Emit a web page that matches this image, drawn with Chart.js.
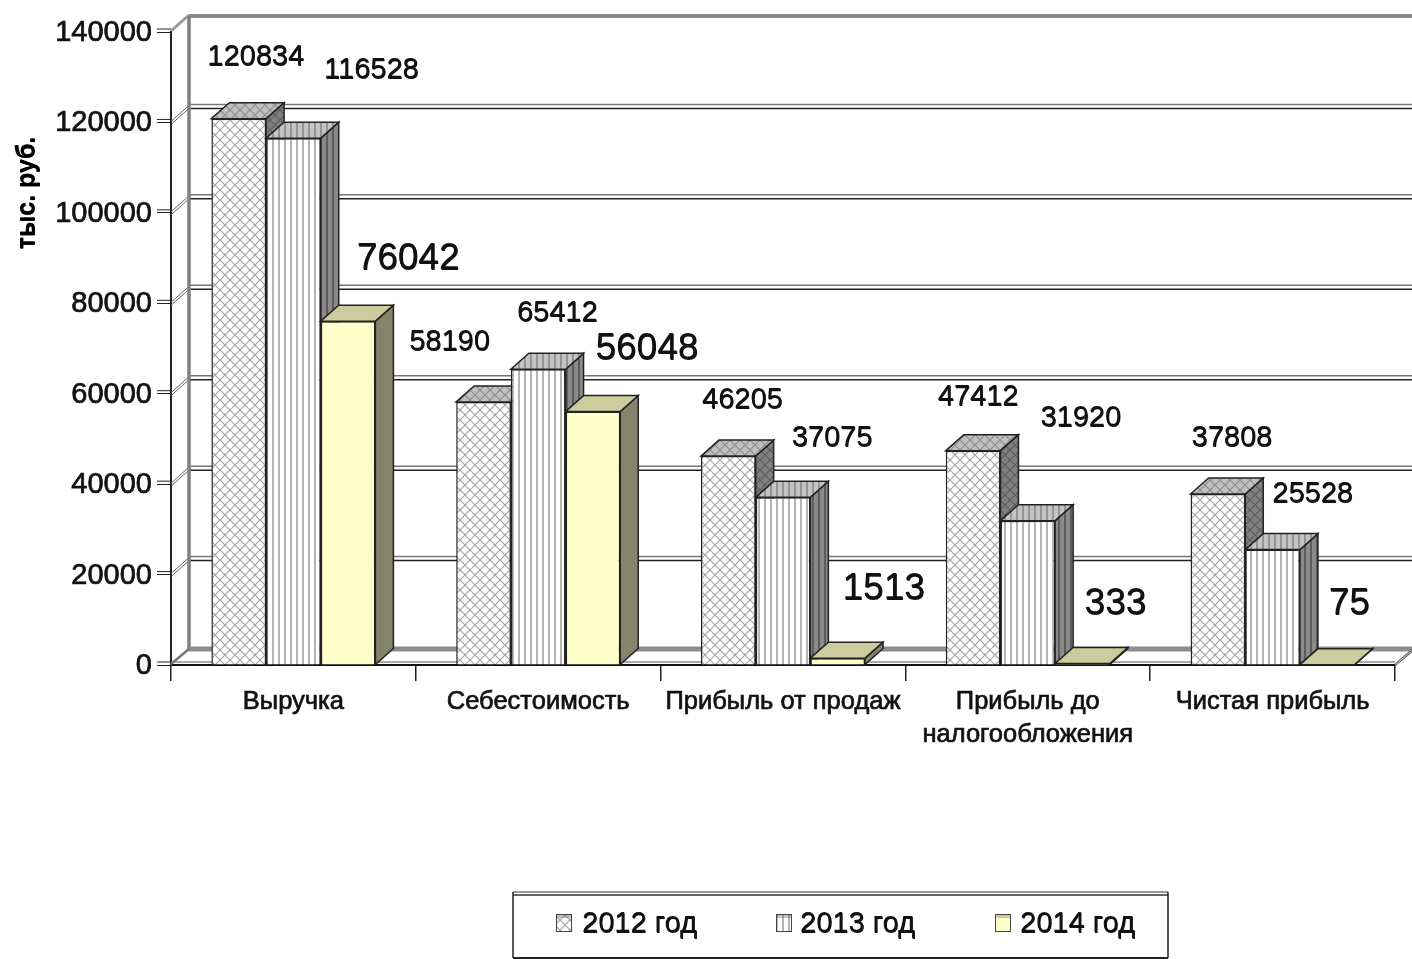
<!DOCTYPE html>
<html lang="ru">
<head>
<meta charset="utf-8">
<title>Показатели 2012-2014</title>
<script src="https://cdn.jsdelivr.net/npm/chart.js@4/dist/chart.umd.min.js"></script>
<style>
  html, body { margin: 0; padding: 0; background: #fff; }
  canvas { display: block; }
</style>
</head>
<body>
<canvas id="chart" width="1412" height="959"></canvas>
<script>
// данные
const categories = ['Выручка', 'Себестоимость', 'Прибыль от продаж', ['Прибыль до', 'налогообложения'], 'Чистая прибыль'];
const seriesNames = ['2012 год', '2013 год', '2014 год'];
const values2012 = [120834, 58190, 46205, 47412, 37808];
const values2013 = [116528, 65412, 37075, 31920, 25528];
const values2014 = [76042, 56048, 1513, 333, 75];
const yMax = 140000;
const yStep = 20000;
const yTitle = 'тыс. руб.';

// смещение подписей от верхнего центра столбика
const labelShift = [
    [[17, -62], [-34, -60], [14, -56], [5, -54], [14, -56]],
    [[78, -68], [19, -56], [49, -59], [53, -103], [40, -56]],
    [[60, -62], [54, -63], [46, -69], [33, -60], [22, -61]]
];
const labelFonts = ['29px', '29px', '37px'];

const DEPTH_X = 18;
const DEPTH_Y = 16;
const FONT = '"Liberation Sans", Arial, sans-serif';

// штриховки
function makePattern(kind, bg, line) {
    const tile = document.createElement('canvas');
    const size = kind === 'cross' ? 10 : 6;
    tile.width = size;
    tile.height = size;
    const c = tile.getContext('2d');
    c.fillStyle = bg;
    c.fillRect(0, 0, size, size);
    c.strokeStyle = line;
    c.lineWidth = kind === 'cross' ? 1.2 : 2;
    c.beginPath();
    if (kind === 'cross') {
        c.moveTo(0, 0); c.lineTo(size, size);
        c.moveTo(size, 0); c.lineTo(0, size);
    } else {
        c.moveTo(size / 2, 0); c.lineTo(size / 2, size);
    }
    c.stroke();
    return c.createPattern(tile, 'repeat');
}

const faces = [
    { front: makePattern('cross', '#ffffff', '#a4a4a4'), top: makePattern('cross', '#c0c0c0', '#8c8c8c'), side: makePattern('cross', '#808080', '#5c5c5c') },
    { front: makePattern('lines', '#ffffff', '#b4b4b4'), top: makePattern('lines', '#c4c4c4', '#949494'), side: makePattern('lines', '#8a8a8a', '#5c5c5c') },
    { front: '#ffffcc', top: '#cccc9e', side: '#84846a' }
];

function poly(ctx, pts, fill, stroke, width) {
    ctx.beginPath();
    pts.forEach((p, i) => i ? ctx.lineTo(p[0], p[1]) : ctx.moveTo(p[0], p[1]));
    ctx.closePath();
    if (fill) { ctx.fillStyle = fill; ctx.fill(); }
    if (stroke) { ctx.strokeStyle = stroke; ctx.lineWidth = width; ctx.stroke(); }
}

function segment(ctx, x1, y1, x2, y2, color, width) {
    ctx.beginPath();
    ctx.moveTo(x1, y1);
    ctx.lineTo(x2, y2);
    ctx.strokeStyle = color;
    ctx.lineWidth = width;
    ctx.stroke();
}

// задняя стенка, пол и сетка
function drawWalls(chart) {
    const ctx = chart.ctx;
    const y = chart.scales.y;
    const area = chart.chartArea;
    const backLeft = area.left + DEPTH_X;
    const backRight = area.right + DEPTH_X;
    y.ticks.forEach(t => {
        const py = y.getPixelForValue(t.value);
        // второй штрих деления
        segment(ctx, area.left - 14, py - 3, area.left, py - 3, '#222', 1);
        if (t.value === 0) return;
        if (t.value !== yMax) {
            segment(ctx, backLeft, py - DEPTH_Y - 2, backRight, py - DEPTH_Y - 2, '#777', 1.5);
            segment(ctx, backLeft, py - DEPTH_Y + 2, backRight, py - DEPTH_Y + 2, '#222', 1.5);
        }
        segment(ctx, area.left, py - 1, backLeft, py - DEPTH_Y - 1, t.value === yMax ? '#999' : '#666', t.value === yMax ? 3 : 1);
        if (t.value !== yMax) segment(ctx, area.left, py + 2, backLeft, py - DEPTH_Y + 2, '#666', 1);
    });
    // верхняя и левая границы стенки
    segment(ctx, backLeft, area.top - DEPTH_Y, backRight, area.top - DEPTH_Y, '#8c8c8c', 4);
    segment(ctx, backLeft, area.top - DEPTH_Y, backLeft, area.bottom - DEPTH_Y, '#808080', 3.5);
    // пол
    segment(ctx, backLeft, area.bottom - DEPTH_Y, backRight, area.bottom - DEPTH_Y, '#8c8c8c', 5);
    segment(ctx, area.left, area.bottom - 3, area.right, area.bottom - 3, '#555', 1);
    segment(ctx, area.left, area.bottom - 1, backLeft, area.bottom - DEPTH_Y, '#777', 2.5);
    segment(ctx, area.right, area.bottom - 1, backRight, area.bottom - DEPTH_Y, '#777', 1.5);
    segment(ctx, area.right, area.bottom + 1, backRight, area.bottom - DEPTH_Y + 2, '#444', 1);
}

// крышка и боковая грань столбика
function drawBarFaces(ctx, bar, face) {
    const half = bar.width / 2;
    const l = bar.x - half;
    const r = bar.x + half;
    const t = bar.y;
    const b = bar.base;
    poly(ctx, [[r, t], [r + DEPTH_X, t - DEPTH_Y], [r + DEPTH_X, b - DEPTH_Y], [r, b]], face.side, '#222', 1.5);
    poly(ctx, [[l, t], [l + DEPTH_X, t - DEPTH_Y], [r + DEPTH_X, t - DEPTH_Y], [r, t]], face.top, '#222', 1.5);
}

function drawValueLabels(chart) {
    const ctx = chart.ctx;
    ctx.textAlign = 'center';
    ctx.textBaseline = 'middle';
    ctx.fillStyle = '#111';
    chart.data.datasets.forEach((ds, i) => {
        ctx.font = labelFonts[i] + ' ' + FONT;
        chart.getDatasetMeta(i).data.forEach((bar, j) => {
            const x = bar.x + labelShift[i][j][0];
            const y = bar.y + labelShift[i][j][1];
            ctx.fillText(ds.data[j], x, y);
            ctx.fillText(ds.data[j], x + 0.5, y + 1);
        });
    });
}

function drawYTitle(chart) {
    const ctx = chart.ctx;
    ctx.save();
    ctx.translate(27, 193);
    ctx.rotate(-Math.PI / 2);
    ctx.font = 'bold 25px ' + FONT;
    ctx.fillStyle = '#000';
    ctx.textAlign = 'center';
    ctx.textBaseline = 'middle';
    ctx.fillText(yTitle, 0, 0);
    ctx.fillText(yTitle, 0, 1);
    ctx.restore();
}

function drawLegendBox(chart) {
    const ctx = chart.ctx;
    const box = { l: 513, t: 892, r: 1168, b: 958 };
    const swatchX = [556, 776, 995];
    const textX = [582, 800, 1020];
    segment(ctx, box.l, box.t, box.r, box.t, '#333', 1);
    segment(ctx, box.l, box.t + 3, box.r, box.t + 3, '#333', 1.5);
    segment(ctx, box.l, box.t, box.l, box.b, '#222', 1.5);
    segment(ctx, box.r, box.t, box.r, box.b, '#222', 1.5);
    segment(ctx, box.l, box.b, box.r, box.b, '#222', 2);
    ctx.font = '29px ' + FONT;
    ctx.textAlign = 'left';
    ctx.textBaseline = 'middle';
    chart.data.datasets.forEach((ds, i) => {
        const sx = swatchX[i];
        ctx.fillStyle = faces[i].front;
        ctx.fillRect(sx, 914, 16, 18);
        ctx.fillStyle = faces[i].top;
        ctx.fillRect(sx, 914, 16, 4);
        ctx.strokeStyle = '#444';
        ctx.lineWidth = 1;
        ctx.strokeRect(sx + 0.5, 914.5, 15, 17);
        ctx.fillStyle = '#111';
        ctx.fillText(ds.label, textX[i], 924);
        ctx.fillText(ds.label, textX[i] + 0.5, 925);
    });
}

const plot3d = {
    id: 'plot3d',
    beforeDatasetsDraw(chart) {
        const ctx = chart.ctx;
        drawWalls(chart);
        // слева направо, иначе грани перекрываются неправильно
        chart.data.datasets.forEach((ds, i) => {
            const meta = chart.getDatasetMeta(i);
            meta.data.forEach(bar => {
                bar.draw(ctx);
                drawBarFaces(ctx, bar, faces[i]);
            });
        });
        return false;
    },
    afterDraw(chart) {
        drawValueLabels(chart);
        drawYTitle(chart);
        drawLegendBox(chart);
    }
};

new Chart(document.getElementById('chart'), {
    type: 'bar',
    data: {
        labels: categories,
        datasets: [values2012, values2013, values2014].map((vals, i) => ({
            label: seriesNames[i],
            data: vals,
            backgroundColor: faces[i].front,
            borderColor: '#222',
            borderWidth: 1.5,
            categoryPercentage: 0.67,
            barPercentage: 1
        }))
    },
    options: {
        responsive: false,
        animation: false,
        devicePixelRatio: 1,
        layout: { padding: { top: 32, right: 17, left: 0, bottom: 0 } },
        plugins: {
            legend: { display: false },
            tooltip: { enabled: false }
        },
        scales: {
            x: {
                afterFit(scale) { scale.height = 294; },
                border: { display: true, color: '#111', width: 2 },
                grid: { drawOnChartArea: false, drawTicks: true, tickLength: 16, color: '#222', lineWidth: 1.5 },
                ticks: {
                    autoSkip: false,
                    maxRotation: 0,
                    padding: 5,
                    color: '#111',
                    textStrokeColor: '#111',
                    textStrokeWidth: 0.7,
                    font: { family: FONT, size: 25.5, lineHeight: 1.29 }
                }
            },
            y: {
                min: 0,
                max: yMax,
                afterFit(scale) { scale.width = 171; },
                border: { display: true, color: '#222', width: 2 },
                grid: { drawOnChartArea: false, drawTicks: true, tickLength: 14, color: '#222', lineWidth: 1 },
                ticks: {
                    stepSize: yStep,
                    padding: 5,
                    labelOffset: 1,
                    color: '#111',
                    textStrokeColor: '#111',
                    textStrokeWidth: 0.7,
                    font: { family: FONT, size: 29 },
                    callback: value => String(value)
                }
            }
        }
    },
    plugins: [plot3d]
});
</script>
</body>
</html>
